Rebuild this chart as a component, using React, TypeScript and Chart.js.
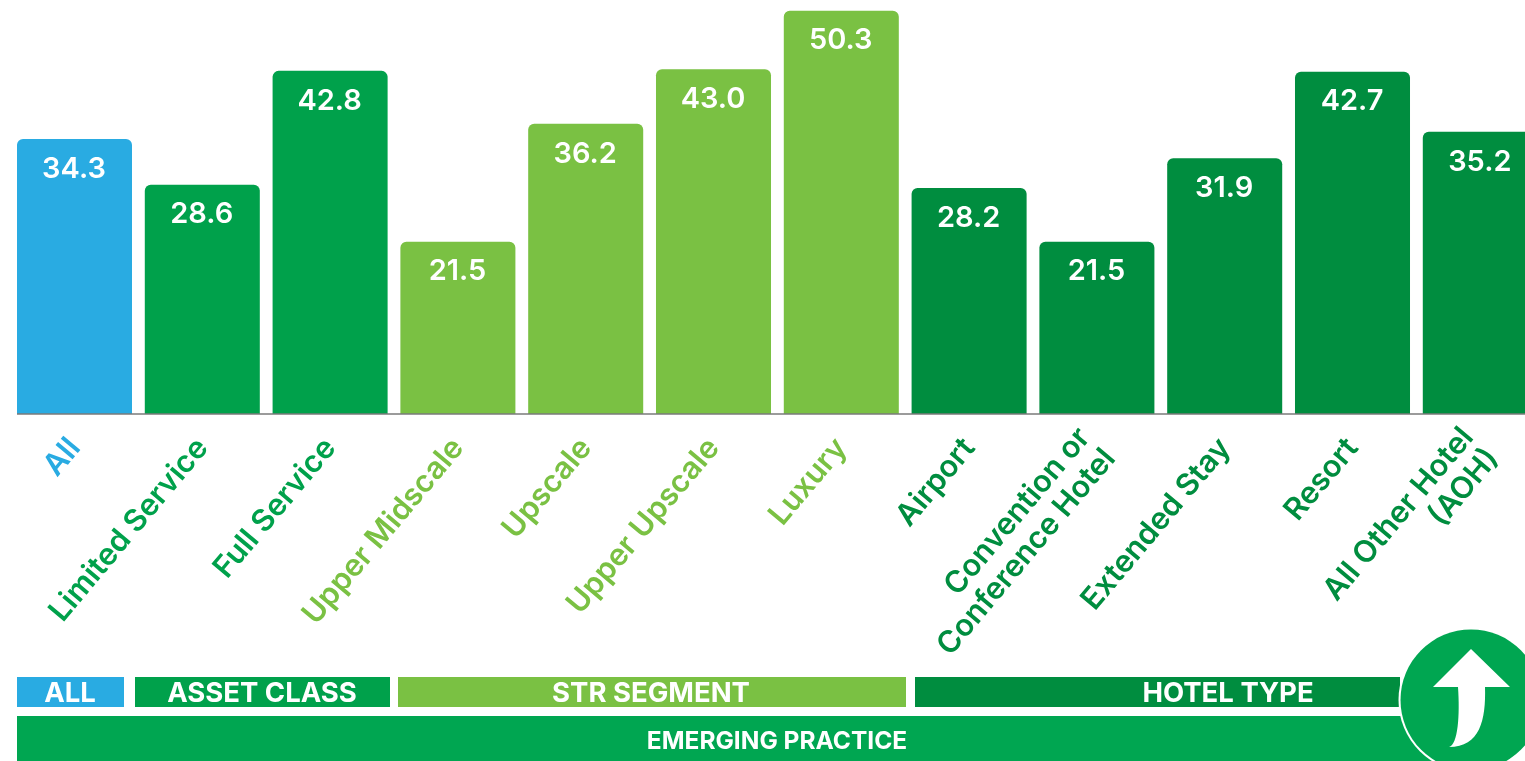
import React, { useEffect, useRef } from "react";
import { Chart, registerables } from "chart.js";

Chart.register(...registerables);

const categories: (string | string[])[] = [
  "All",
  "Limited Service",
  "Full Service",
  "Upper Midscale",
  "Upscale",
  "Upper Upscale",
  "Luxury",
  "Airport",
  ["Convention or", "Conference Hotel"],
  "Extended Stay",
  "Resort",
  ["All Other Hotel", "(AOH)"],
];
const values = [34.3, 28.6, 42.8, 21.5, 36.2, 43.0, 50.3, 28.2, 21.5, 31.9, 42.7, 35.2];

const BLUE = "#29abe2";
const GREEN = "#00a14b";
const LIME = "#7ac143";
const DARK = "#008d3f";
const BANNER = "#00a651";
const barColors = [BLUE, GREEN, GREEN, LIME, LIME, LIME, LIME, DARK, DARK, DARK, DARK, DARK];

const groupNames = ["ALL", "ASSET CLASS", "STR SEGMENT", "HOTEL TYPE"];
const groupColors = [BLUE, GREEN, LIME, DARK];
const groupSpans = [[17, 124], [135, 390], [398, 906], [915, 1400]];
const groupLabelCenters = [70, 262, 651, 1228];
const footerTitle = "EMERGING PRACTICE";

const FONT = "Inter, sans-serif";
const TICK_ANGLE = 50;
const TICK_LINE_HEIGHT = 33;

const valueLabels = {
  id: "valueLabels",
  afterDatasetsDraw(chart: Chart) {
    const { ctx } = chart;
    const bars = chart.getDatasetMeta(0).data;
    ctx.save();
    ctx.font = `600 29px ${FONT}`;
    ctx.fillStyle = "#ffffff";
    ctx.textAlign = "center";
    ctx.textBaseline = "middle";
    bars.forEach((bar: any, i: number) => {
      ctx.fillText(values[i].toFixed(1), bar.x - 0.5, bar.y + 30);
    });
    ctx.restore();
  },
};

// Two-line tick labels sit centred on their tick instead of hanging below it.
const centerMultilineTicks = {
  id: "centerMultilineTicks",
  beforeDraw(chart: Chart) {
    const angle = (TICK_ANGLE * Math.PI) / 180;
    (chart.scales.x as any).getLabelItems().forEach((item: any) => {
      if (Array.isArray(item.label) && !item.centered) {
        const shift = ((item.label.length - 1) * TICK_LINE_HEIGHT) / 2;
        const [x, y] = item.options.translation;
        item.options.translation = [x - shift * Math.sin(angle), y - shift * Math.cos(angle)];
        item.centered = true;
      }
    });
  },
};

const baseline = {
  id: "baseline",
  afterDatasetsDraw(chart: Chart) {
    const { ctx, chartArea } = chart;
    const first: any = chart.getDatasetMeta(0).data[0];
    const y = chart.scales.y.getPixelForValue(0);
    ctx.save();
    ctx.strokeStyle = "#7a7a7a";
    ctx.lineWidth = 1.5;
    ctx.beginPath();
    ctx.moveTo(first.x - first.width / 2, y);
    ctx.lineTo(chartArea.right, y);
    ctx.stroke();
    ctx.restore();
  },
};

// Category strips, the footer banner and the round arrow badge under the axis labels.
const footer = {
  id: "footer",
  afterDraw(chart: Chart) {
    const { ctx } = chart;
    ctx.save();
    ctx.textAlign = "center";
    ctx.textBaseline = "middle";

    ctx.fillStyle = BANNER;
    ctx.fillRect(17, 716, 1420, 45);
    ctx.fillStyle = "#ffffff";
    ctx.font = `700 24.5px ${FONT}`;
    ctx.fillText(footerTitle, 777, 742);

    groupNames.forEach((name, i) => {
      const [x0, x1] = groupSpans[i];
      ctx.fillStyle = groupColors[i];
      ctx.fillRect(x0, 677, x1 - x0, 30);
      ctx.fillStyle = "#ffffff";
      ctx.font = `700 27.5px ${FONT}`;
      ctx.fillText(name, groupLabelCenters[i], 694);
    });

    ctx.beginPath();
    ctx.arc(1471, 700, 72.5, 0, Math.PI * 2);
    ctx.fillStyle = "#ffffff";
    ctx.fill();
    ctx.beginPath();
    ctx.arc(1471, 700, 70.5, 0, Math.PI * 2);
    ctx.fillStyle = BANNER;
    ctx.fill();

    ctx.beginPath();
    ctx.moveTo(1471, 649);
    ctx.lineTo(1510, 687);
    ctx.lineTo(1485, 687);
    ctx.bezierCurveTo(1486, 720, 1480, 747, 1449, 747);
    ctx.bezierCurveTo(1458, 745, 1460, 715, 1458, 687);
    ctx.lineTo(1433, 687);
    ctx.closePath();
    ctx.fillStyle = "#ffffff";
    ctx.fill();
    ctx.restore();
  },
};

export default function App() {
  const canvasRef = useRef<HTMLCanvasElement>(null);

  useEffect(() => {
    document.body.style.margin = "0";
    document.documentElement.style.overflow = "hidden";
    const chart = new Chart(canvasRef.current!, {
      type: "bar",
      data: {
        labels: categories as any,
        datasets: [
          {
            data: values,
            backgroundColor: barColors,
            borderRadius: { topLeft: 6, topRight: 6, bottomLeft: 0, bottomRight: 0 },
            borderSkipped: false,
            categoryPercentage: 0.9,
            barPercentage: 1,
          },
        ],
      },
      options: {
        animation: false,
        responsive: false,
        layout: { padding: { left: 10.6, right: 0.8, top: 0, bottom: 0 } },
        plugins: { legend: { display: false }, tooltip: { enabled: false } },
        scales: {
          x: {
            grid: { display: false },
            border: { display: false },
            afterFit(scale: any) {
              scale.height = 347;
            },
            ticks: {
              autoSkip: false,
              minRotation: TICK_ANGLE,
              maxRotation: TICK_ANGLE,
              padding: 10,
              color: (c: any) => barColors[c.index],
              font: { family: FONT, size: 30.5, weight: 600, lineHeight: `${TICK_LINE_HEIGHT}px` },
            },
          },
          y: { display: false, min: 0, max: 51.64 },
        },
      },
      plugins: [valueLabels, centerMultilineTicks, baseline, footer],
    });
    return () => chart.destroy();
  }, []);

  return (
    <div style={{ width: 1525, height: 761, overflow: "hidden", position: "relative", background: "#fff" }}>
      <canvas ref={canvasRef} width={1545} height={761} style={{ display: "block" }} />
    </div>
  );
}
